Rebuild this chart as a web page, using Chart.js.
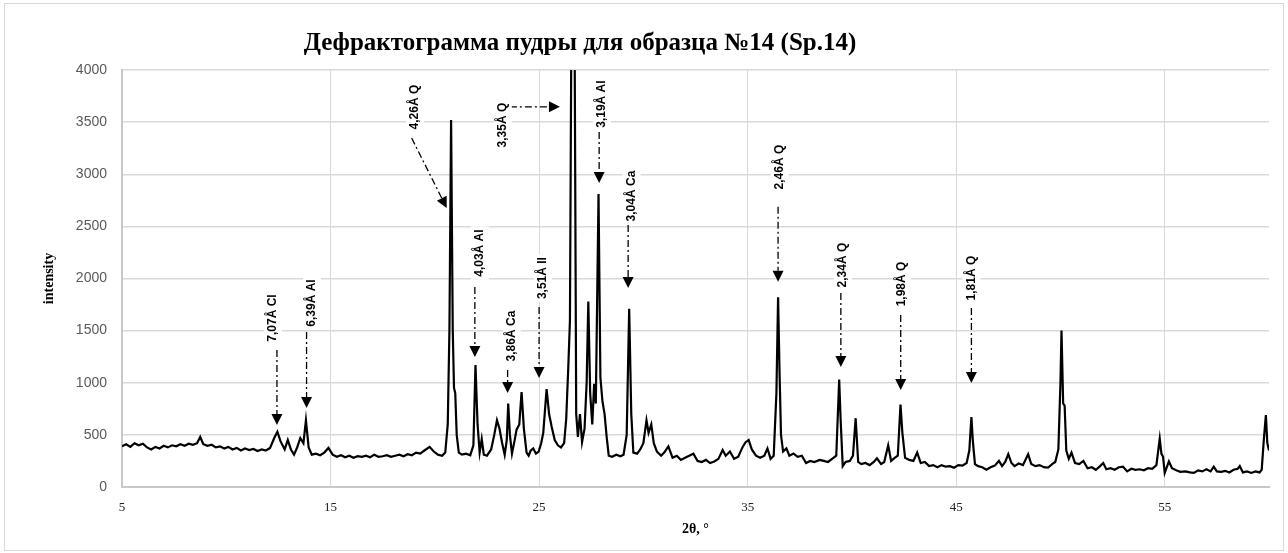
<!DOCTYPE html>
<html lang="ru">
<head>
    <meta charset="UTF-8">
    <title>Дефрактограмма пудры</title>
    <script src="https://cdn.jsdelivr.net/npm/chart.js"></script>
    <style>
        body { margin: 0; background: #fff; }
        #xrd { display: block; }
    </style>
</head>
<body>
    <canvas id="xrd" width="1288" height="553"></canvas>

    <script>
        const twoTheta = [
            5.0, 5.2, 5.4, 5.6, 5.8, 6.0, 6.2, 6.4, 6.6, 6.8,
            7.0, 7.2, 7.4, 7.6, 7.8, 8.0, 8.2, 8.4, 8.6, 8.75,
            8.9, 9.1, 9.3, 9.5, 9.7, 9.9, 10.1, 10.3, 10.5, 10.7,
            10.9, 11.1, 11.3, 11.5, 11.7, 11.9, 12.1, 12.3, 12.45, 12.6,
            12.8, 12.95, 13.1, 13.25, 13.4, 13.55, 13.7, 13.82, 13.95, 14.1,
            14.3, 14.5, 14.7, 14.9, 15.1, 15.3, 15.5, 15.7, 15.9, 16.1,
            16.3, 16.5, 16.7, 16.9, 17.1, 17.3, 17.5, 17.7, 17.9, 18.1,
            18.3, 18.5, 18.7, 18.9, 19.1, 19.3, 19.5, 19.75, 19.95, 20.15,
            20.35, 20.5, 20.62, 20.7, 20.78, 20.86, 20.92, 20.98, 21.05, 21.15,
            21.3, 21.5, 21.7, 21.85, 21.95, 22.05, 22.15, 22.25, 22.35, 22.5,
            22.7, 22.85, 22.98, 23.1, 23.22, 23.35, 23.45, 23.52, 23.6, 23.7,
            23.82, 23.92, 24.05, 24.16, 24.27, 24.4, 24.5, 24.6, 24.72, 24.85,
            24.98, 25.1, 25.2, 25.36, 25.48, 25.6, 25.75, 25.9, 26.05, 26.2,
            26.3, 26.4, 26.48, 26.55, 26.62, 26.7, 26.78, 26.86, 26.96, 27.06,
            27.18, 27.28, 27.36, 27.45, 27.55, 27.64, 27.72, 27.85, 27.94, 28.04,
            28.14, 28.24, 28.34, 28.5, 28.7, 28.9, 29.05, 29.2, 29.32, 29.42,
            29.52, 29.7, 29.85, 30.0, 30.15, 30.25, 30.38, 30.5, 30.65, 30.85,
            31.0, 31.2, 31.4, 31.6, 31.8, 32.0, 32.2, 32.4, 32.6, 32.8,
            33.0, 33.2, 33.4, 33.6, 33.8, 33.95, 34.15, 34.35, 34.55, 34.75,
            34.9, 35.05, 35.2, 35.4, 35.6, 35.8, 35.95, 36.1, 36.25, 36.38,
            36.46, 36.53, 36.6, 36.7, 36.86, 37.0, 37.2, 37.4, 37.6, 37.8,
            38.0, 38.2, 38.45, 38.65, 38.85, 39.05, 39.25, 39.39, 39.46, 39.56,
            39.7, 39.9, 40.05, 40.18, 40.3, 40.45, 40.65, 40.85, 41.05, 41.2,
            41.4, 41.55, 41.74, 41.88, 42.05, 42.2, 42.33, 42.42, 42.55, 42.75,
            42.95, 43.13, 43.3, 43.5, 43.7, 43.9, 44.1, 44.3, 44.5, 44.7,
            44.9, 45.1, 45.3, 45.5, 45.63, 45.73, 45.8, 45.9, 46.05, 46.25,
            46.45, 46.65, 46.85, 47.05, 47.2, 47.35, 47.5, 47.65, 47.8, 48.0,
            48.2, 48.45, 48.6, 48.8, 49.0, 49.2, 49.4, 49.6, 49.75, 49.9,
            50.0, 50.05, 50.13, 50.2, 50.28, 50.4, 50.53, 50.7, 50.9, 51.1,
            51.3, 51.5, 51.7, 51.9, 52.05, 52.2, 52.4, 52.6, 52.8, 53.0,
            53.2, 53.4, 53.6, 53.8, 54.0, 54.2, 54.4, 54.6, 54.76, 54.84,
            54.92, 55.0, 55.2, 55.35, 55.55, 55.75, 56.0, 56.2, 56.4, 56.6,
            56.8, 57.0, 57.2, 57.35, 57.5, 57.7, 57.9, 58.1, 58.3, 58.5,
            58.6, 58.75, 58.95, 59.15, 59.35, 59.55, 59.65, 59.75, 59.85, 59.92,
            60.0
        ];
        const intensity = [
            390, 410, 385, 420, 400, 415, 380, 360, 385, 370,
            395, 380, 400, 390, 410, 395, 415, 405, 420, 480,
            410, 395, 405, 380, 390, 370, 385, 360, 375, 350,
            370, 355, 365, 345, 360, 350, 375, 470, 530, 440,
            360, 450, 360, 310, 380, 470, 420, 640, 380, 310,
            320, 305, 330, 375, 310, 290, 305, 285, 300, 280,
            295, 290, 300, 285, 310, 290, 295, 305, 290, 300,
            310, 295, 315, 305, 330, 320, 350, 385, 340, 310,
            300, 330, 600, 1500, 3520, 1500, 950, 900, 500, 330,
            310, 320, 305, 400, 1170, 600, 330, 460, 310, 300,
            360, 500, 640, 560, 430, 310, 450, 800, 500, 320,
            440, 550, 600, 910, 560, 330, 300, 350, 370, 320,
            340, 420, 520, 940, 700, 580, 450, 400, 380, 420,
            650, 1150, 1600, 4500, 9000, 4500, 700, 480, 700, 430,
            560, 1000, 1780, 900, 600, 990, 800, 2810, 1050, 820,
            700, 480, 300, 290, 310, 295, 310, 500, 1710, 700,
            330, 320, 360, 420, 640, 520, 600, 420, 340, 300,
            330, 390, 280, 300, 260, 280, 300, 320, 250, 240,
            260, 230, 245, 270, 355, 300, 340, 270, 290, 380,
            430, 450, 360, 300, 280, 300, 370, 270, 300, 900,
            1820, 1100, 500, 340, 370, 300, 320, 290, 300, 230,
            250, 240, 260, 250, 240, 270, 300, 1030, 640, 200,
            240, 250, 300, 660, 240, 220, 230, 210, 240, 275,
            220, 240, 400, 250, 280, 300, 790, 520, 280, 260,
            250, 330, 230, 240, 200, 210, 190, 210, 195, 200,
            185, 210, 205, 230, 350, 670, 440, 220, 200, 190,
            165, 190, 205, 250, 200, 240, 315, 230, 200, 225,
            210, 315, 220, 200, 210, 190, 185, 220, 240, 360,
            1000, 1500, 800, 780, 350, 270, 330, 230, 220, 250,
            180, 190, 165, 200, 230, 170, 180, 165, 190, 195,
            150, 175, 165, 170, 160, 180, 175, 210, 465, 320,
            290, 135, 245, 180, 160, 145, 150, 140, 135, 160,
            150, 170, 150, 195, 150, 145, 155, 140, 165, 175,
            200, 140, 150, 135, 150, 140, 165, 450, 690, 420,
            350
        ];

        const xTicks = [5, 15, 25, 35, 45, 55];

        // peak labels: text, text centre (x, y), arrow start and arrow tip
        const peakText = ['7,07Å Cl', '6,39Å Al', '4,26Å Q', '3,35Å Q', '4,03Å Al', '3,86Å Ca', '3,51Å Il',
                          '3,19Å Al', '3,04Å Ca', '2,46Å Q', '2,34Å Q', '1,98Å Q', '1,81Å Q'];
        const textX   = [12.24, 14.11, 19.05, 23.26, 22.16, 23.68, 25.18, 28.01, 29.43, 36.54, 39.56, 42.38, 45.73];
        const textY   = [1621, 1765, 3644, 3472, 2244, 1448, 2004, 3673, 2791, 3069, 2129, 1947, 2004];
        const arrowX1 = [12.43, 13.85, 18.89, 23.60, 21.92, 23.49, 25.00, 27.88, 29.27, 36.46, 39.47, 42.34, 45.73];
        const arrowY1 = [1314, 1486, 3347, 3647, 1918, 1122, 1726, 3405, 2513, 2688, 1860, 1649, 1716];
        const arrowX2 = [12.43, 13.85, 20.57, 26.00, 21.92, 23.49, 25.00, 27.88, 29.27, 36.46, 39.47, 42.34, 45.73];
        const arrowY2 = [595, 758, 2676, 3647, 1247, 901, 1045, 2915, 1908, 1969, 1151, 930, 997];

        const peakLabels = {
            id: 'peakLabels',
            afterDatasetsDraw(chart) {
                const ctx = chart.ctx;
                const sx = chart.scales.x, sy = chart.scales.y;
                ctx.save();
                peakText.forEach((txt, i) => {
                    const x1 = sx.getPixelForValue(arrowX1[i]), y1 = sy.getPixelForValue(arrowY1[i]);
                    const x2 = sx.getPixelForValue(arrowX2[i]), y2 = sy.getPixelForValue(arrowY2[i]);
                    const ang = Math.atan2(y2 - y1, x2 - x1);
                    const head = 11;
                    // dash-dot shaft
                    ctx.strokeStyle = '#000';
                    ctx.lineWidth = 1.3;
                    ctx.setLineDash([7, 3, 2, 3]);
                    ctx.beginPath();
                    ctx.moveTo(x1, y1);
                    ctx.lineTo(x2 - Math.cos(ang) * head, y2 - Math.sin(ang) * head);
                    ctx.stroke();
                    ctx.setLineDash([]);
                    // arrow head
                    ctx.fillStyle = '#000';
                    ctx.beginPath();
                    ctx.moveTo(x2, y2);
                    ctx.lineTo(x2 - Math.cos(ang) * head - Math.sin(ang) * 5.5, y2 - Math.sin(ang) * head + Math.cos(ang) * 5.5);
                    ctx.lineTo(x2 - Math.cos(ang) * head + Math.sin(ang) * 5.5, y2 - Math.sin(ang) * head - Math.cos(ang) * 5.5);
                    ctx.closePath();
                    ctx.fill();
                    // rotated label on white
                    const tx = sx.getPixelForValue(textX[i]), ty = sy.getPixelForValue(textY[i]);
                    ctx.save();
                    ctx.translate(tx, ty);
                    ctx.rotate(-Math.PI / 2);
                    ctx.font = 'bold 12px "Liberation Sans", Arial, sans-serif';
                    const w = ctx.measureText(txt).width;
                    ctx.fillStyle = '#fff';
                    ctx.fillRect(-w / 2 - 3, -9, w + 6, 18);
                    ctx.fillStyle = '#000';
                    ctx.textAlign = 'center';
                    ctx.textBaseline = 'middle';
                    ctx.fillText(txt, 0, 0);
                    ctx.restore();
                });
                ctx.restore();
            }
        };

        const frameAndTitle = {
            id: 'frameAndTitle',
            beforeDraw(chart) {
                const ctx = chart.ctx;
                ctx.save();
                ctx.fillStyle = '#fff';
                ctx.fillRect(0, 0, chart.width, chart.height);
                ctx.strokeStyle = '#d9d9d9';
                ctx.lineWidth = 1;
                ctx.strokeRect(4.5, 3.5, chart.width - 9, chart.height - 6);
                ctx.restore();
            },
            afterDraw(chart) {
                const ctx = chart.ctx;
                ctx.save();
                ctx.font = 'bold 25px "Liberation Serif", "Times New Roman", serif';
                ctx.fillStyle = '#000';
                ctx.textAlign = 'center';
                ctx.textBaseline = 'middle';
                ctx.fillText('Дефрактограмма пудры для образца №14 (Sp.14)', 580, 44);
                ctx.restore();
            }
        };

        const points = twoTheta.map((t, i) => ({ x: t, y: intensity[i] }));

        new Chart(document.getElementById('xrd'), {
            type: 'line',
            data: {
                datasets: [{
                    data: points,
                    borderColor: '#000',
                    borderWidth: 2.2,
                    pointRadius: 0,
                    tension: 0,
                    clip: 0
                }]
            },
            options: {
                responsive: false,
                animation: false,
                layout: { padding: { left: 0, right: 19, top: 70, bottom: 0 } },
                plugins: {
                    legend: { display: false },
                    tooltip: { enabled: false }
                },
                scales: {
                    x: {
                        type: 'linear',
                        min: 5,
                        max: 60,
                        afterBuildTicks: s => { s.ticks = xTicks.map(v => ({ value: v })); },
                        afterFit: s => { s.height = 66; },
                        grid: { color: '#d9d9d9', drawTicks: false },
                        border: { color: '#c8c8c8', width: 2 },
                        ticks: {
                            padding: 13,
                            color: '#222',
                            font: { family: '"Liberation Serif", serif', size: 13 }
                        },
                        title: {
                            display: true,
                            text: '2θ, °',
                            color: '#000',
                            font: { family: '"Liberation Serif", serif', size: 14, weight: 'bold' },
                            padding: { top: 0, bottom: 15 }
                        }
                    },
                    y: {
                        min: 0,
                        max: 4000,
                        afterFit: s => { s.width = 122; },
                        grid: { color: '#d9d9d9', lineWidth: 1.5, drawTicks: false },
                        border: { color: '#c8c8c8', width: 2 },
                        ticks: {
                            stepSize: 500,
                            padding: 15,
                            color: '#595959',
                            font: { family: '"Liberation Sans", Arial, sans-serif', size: 14 },
                            callback: v => String(v)
                        },
                        title: {
                            display: true,
                            text: 'intensity',
                            color: '#000',
                            font: { family: '"Liberation Serif", serif', size: 14, weight: 'bold' },
                            padding: { top: 41, bottom: 0 }
                        }
                    }
                }
            },
            plugins: [frameAndTitle, peakLabels]
        });
    </script>
</body>
</html>
